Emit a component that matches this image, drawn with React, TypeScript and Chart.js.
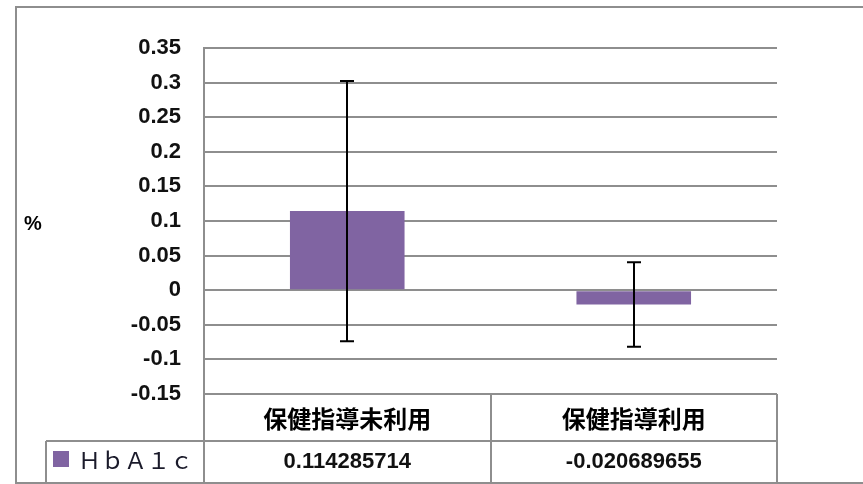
import React, { useEffect, useRef } from "react";
import { Chart, registerables } from "chart.js";

Chart.register(...registerables);

const categories = ["保健指導未利用", "保健指導利用"];
const seriesName = "ＨｂＡ１ｃ";
const hba1cValues = [0.114285714, -0.020689655];
const hba1cErrors = [0.188, 0.061];
const valueLabels = ["0.114285714", "-0.020689655"];
const yMin = -0.15;
const yMax = 0.35;
const yStep = 0.05;
const yAxisTitle = "%";

const BAR_COLOR = "#8064A2";
const LINE_COLOR = "#8e8e8e";
const NUM_FONT = "'Liberation Sans', Arial, sans-serif";
const CJK_FONT = "'Noto Sans CJK JP', sans-serif";

const errorBarPlugin = {
  id: "errorBars",
  afterDatasetsDraw(chart: any) {
    const ctx = chart.ctx;
    const xs = chart.scales.x;
    const ys = chart.scales.y;
    ctx.save();
    ctx.strokeStyle = "#000";
    ctx.lineWidth = 2;
    hba1cValues.forEach((v, i) => {
      const x = Math.round(xs.getPixelForValue(i));
      const yTop = ys.getPixelForValue(v + hba1cErrors[i]);
      const yBot = ys.getPixelForValue(v - hba1cErrors[i]);
      ctx.beginPath();
      ctx.moveTo(x, yTop);
      ctx.lineTo(x, yBot);
      ctx.moveTo(x - 7, yTop);
      ctx.lineTo(x + 7, yTop);
      ctx.moveTo(x - 7, yBot);
      ctx.lineTo(x + 7, yBot);
      ctx.stroke();
    });
    ctx.restore();
  },
};

const tablePlugin = {
  id: "dataTable",
  afterDraw(chart: any) {
    const ctx = chart.ctx;
    const area = chart.chartArea;
    const xs = chart.scales.x;
    const W = chart.width;
    const H = chart.height;
    const left = area.left;
    const right = area.right;
    const top = area.bottom;
    const rowMid = 441;
    const bottom = H - 1;
    const catW = (right - left) / categories.length;
    const tableLeft = 46;

    ctx.save();
    ctx.strokeStyle = LINE_COLOR;
    ctx.lineWidth = 2;
    // outer chart border
    ctx.beginPath();
    ctx.moveTo(W + 5, 7);
    ctx.lineTo(16, 7);
    ctx.lineTo(16, bottom);
    ctx.lineTo(W + 5, bottom);
    ctx.stroke();

    // table lines
    ctx.beginPath();
    ctx.moveTo(left, top);
    ctx.lineTo(right, top);
    ctx.moveTo(tableLeft, rowMid);
    ctx.lineTo(right, rowMid);
    ctx.moveTo(tableLeft, rowMid);
    ctx.lineTo(tableLeft, bottom);
    for (let i = 0; i <= categories.length; i++) {
      const x = Math.round(left + i * catW);
      ctx.moveTo(x, top);
      ctx.lineTo(x, bottom);
    }
    ctx.stroke();

    // header texts
    ctx.fillStyle = "#000";
    ctx.textAlign = "center";
    ctx.textBaseline = "middle";
    ctx.font = `bold 24px ${CJK_FONT}`;
    categories.forEach((c, i) => {
      ctx.fillText(c, xs.getPixelForValue(i), (top + rowMid) / 2 + 1);
    });
    // values
    ctx.fillStyle = "#111";
    ctx.font = `bold 22px ${NUM_FONT}`;
    valueLabels.forEach((t, i) => {
      ctx.fillText(t, xs.getPixelForValue(i), (rowMid + bottom) / 2);
    });
    // legend key
    ctx.fillStyle = BAR_COLOR;
    ctx.fillRect(53, 451, 16, 16);
    ctx.fillStyle = "#1a1a2a";
    ctx.textAlign = "left";
    ctx.font = `23px ${CJK_FONT}`;
    ctx.fillText(seriesName, 78, 460);

    // y axis title
    ctx.fillStyle = "#000";
    ctx.textAlign = "center";
    ctx.font = `bold 20px ${NUM_FONT}`;
    ctx.fillText(yAxisTitle, 33, 224);
    ctx.restore();
  },
};

export default function App() {
  const ref = useRef<HTMLCanvasElement | null>(null);
  useEffect(() => {
    if (!ref.current) return;
    const chart = new Chart(ref.current, {
      type: "bar",
      data: {
        labels: categories,
        datasets: [
          {
            label: seriesName,
            data: hba1cValues,
            backgroundColor: BAR_COLOR,
            borderWidth: 0,
            barPercentage: 0.4,
            categoryPercentage: 1,
          },
        ],
      },
      options: {
        animation: false,
        responsive: false,
        devicePixelRatio: 1,
        layout: { padding: { left: 0, right: 86, top: 48, bottom: 90 } },
        plugins: {
          legend: { display: false },
          tooltip: { enabled: false },
          title: { display: false },
        },
        scales: {
          x: { display: false },
          y: {
            min: yMin,
            max: yMax,
            afterFit: (s: any) => {
              s.width = 204;
            },
            ticks: {
              stepSize: yStep,
              padding: 23,
              color: "#111",
              font: { family: NUM_FONT, size: 22, weight: "bold" },
              callback: (v: any) => String(Math.round(Number(v) * 100) / 100),
            },
            grid: { color: LINE_COLOR, lineWidth: 2, drawTicks: false },
            border: { display: true, color: LINE_COLOR, width: 2 },
          },
        },
      },
      plugins: [errorBarPlugin, tablePlugin],
    });
    return () => chart.destroy();
  }, []);
  return (
    <div style={{ position: "absolute", left: 0, top: 0, width: 863, height: 484, background: "#fff" }}>
      <canvas ref={ref} width={863} height={484} style={{ display: "block" }} />
    </div>
  );
}
